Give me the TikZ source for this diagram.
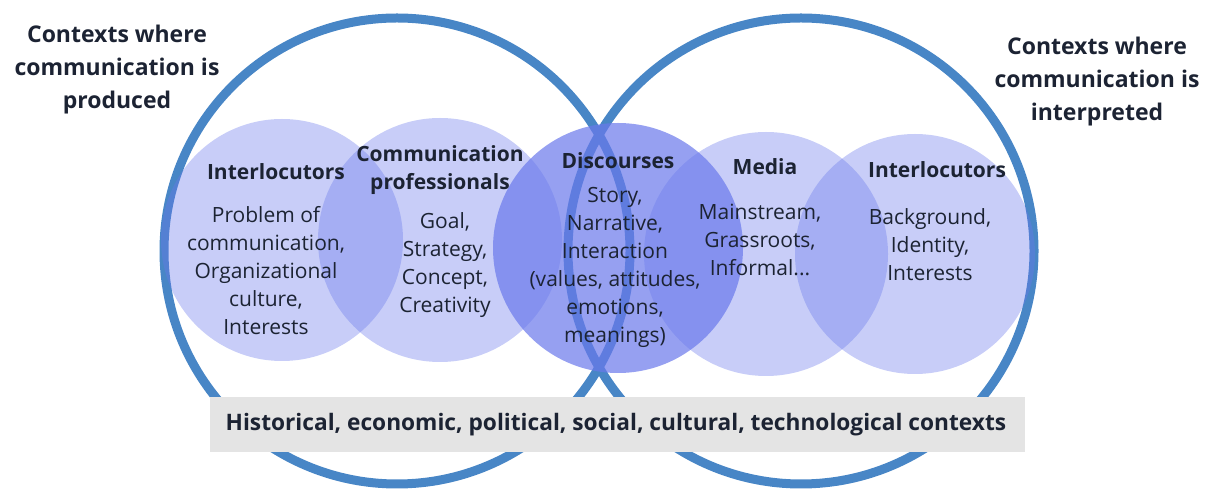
\documentclass[tikz,border=0pt]{standalone}
\usepackage{fontspec}
\setmainfont{Open Sans}
\definecolor{ringblue}{RGB}{72,134,198}
\definecolor{circleblue}{RGB}{105,120,235}
\definecolor{inkdark}{RGB}{28,35,51}
\definecolor{bargray}{RGB}{228,228,228}

\begin{document}
\begin{tikzpicture}[x=1pt,y=1pt,
  title/.style={font=\fontsize{23}{33}\selectfont\bfseries,text=inkdark,align=center,inner sep=0},
  head/.style={font=\fontsize{21}{28}\selectfont\bfseries,text=inkdark,align=center,inner sep=0},
  body/.style={font=\fontsize{21}{28}\selectfont,text=inkdark,align=center,inner sep=0}]
\useasboundingbox (0,0) rectangle (1213,490);
% the two context rings
\foreach \cx in {397,801} {\draw[ringblue,line width=9] (\cx,239) circle (233);}
% element circles, discourses in the middle is darker
\foreach \cx/\cy/\r in {282/250/121,440/250/122,766/236/122,915/236/120} {\fill[circleblue,opacity=0.37] (\cx,\cy) circle (\r);}
\fill[circleblue,opacity=0.7] (618,242) circle (125);
% bar with the wider contexts
\fill[bargray] (210,38) rectangle (1025,93);
\node[head,font=\fontsize{22.7}{28}\selectfont\bfseries] (ctx) at (616,65) {Historical, economic, political, social, cultural, technological contexts};
% ring titles
\node[title] (prod) at (117,420) {Contexts where\\communication is\\produced};
\node[title] (interp) at (1097,408) {Contexts where\\communication is\\interpreted};
% circle texts
\node[head] (ilhead) at (276,318) {Interlocutors};
\node[body] (ilbody) at (266,219) {Problem of\\communication,\\Organizational\\culture,\\Interests};
\node[head] (cphead) at (440,320) {Communication\\professionals};
\node[body] (cpbody) at (445,225) {Goal,\\Strategy,\\Concept,\\Creativity};
\node[head] (dischead) at (618,329) {Discourses};
\node[body] (discbody) at (615,223) {Story,\\Narrative,\\Interaction\\(values, attitudes,\\emotions,\\meanings)};
\node[head] (medhead) at (765,323) {Media};
\node[body] (medbody) at (760,250) {Mainstream,\\Grassroots,\\Informal...};
\node[head] (irhead) at (937,320) {Interlocutors};
\node[body] (irbody) at (930,245) {Background,\\Identity,\\Interests};
\end{tikzpicture}
\end{document}
